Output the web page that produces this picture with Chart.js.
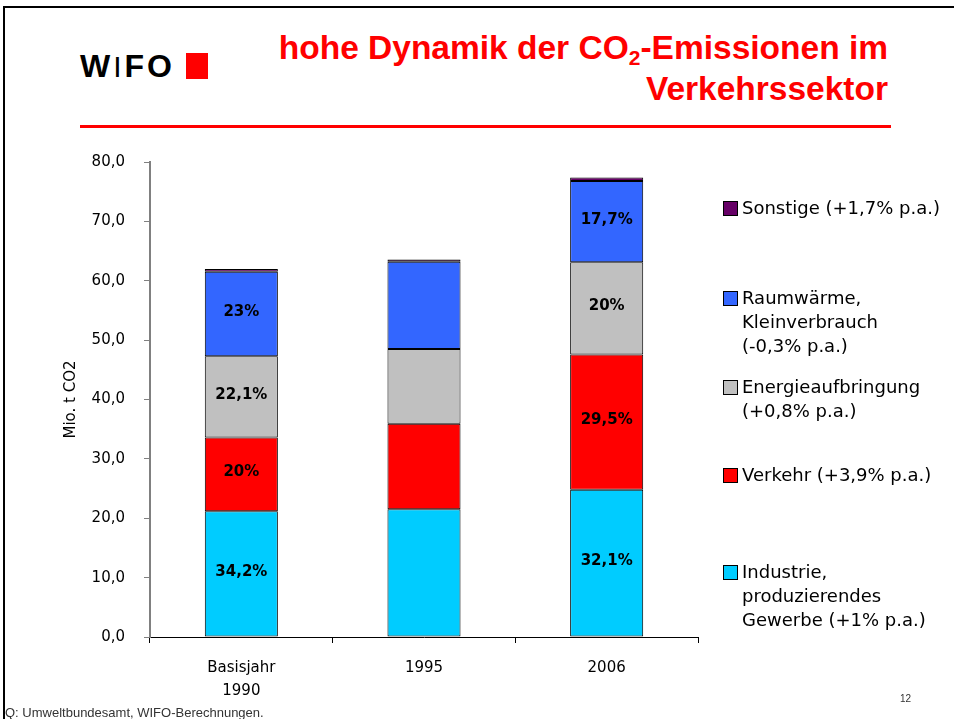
<!DOCTYPE html>
<html>
<head>
<meta charset="utf-8">
<script src="https://cdn.jsdelivr.net/npm/chart.js@4.4.1/dist/chart.umd.min.js"></script>
<style>
  html,body{margin:0;padding:0;background:#fff;}
  body{width:954px;height:719px;overflow:hidden;position:relative;font-family:"DejaVu Sans",sans-serif;}
  #frame{position:absolute;left:3px;top:6px;width:980px;height:740px;border-left:2px solid #000;border-top:2px solid #000;box-sizing:border-box;}
  #logo{position:absolute;left:80px;top:46px;font-family:"Liberation Sans",Arial,sans-serif;font-weight:bold;font-size:32px;color:#000;letter-spacing:3px;line-height:40px;}
  #logo .thin{font-weight:normal;font-size:30px;}
  #logo .sq{position:absolute;left:106px;top:7px;width:22px;height:26px;background:#ff0000;}
  #title{position:absolute;right:66px;top:27px;text-align:right;font-family:"Liberation Sans",Arial,sans-serif;font-weight:bold;font-size:33.5px;line-height:41px;color:#ff0000;}
  #title sub{font-size:21px;vertical-align:-6px;line-height:0;}
  #rule{position:absolute;left:80px;top:125px;width:811px;height:3px;background:#ff0000;}
  #chartbox{position:absolute;left:0;top:0;}
  #legend{position:absolute;left:0;top:0;}
  .li{position:absolute;left:723px;font-size:18px;line-height:24px;color:#000;white-space:nowrap;}
  .li .box{position:absolute;left:0;top:5px;width:13px;height:13px;border:1px solid #000;}
  .li .txt{position:absolute;left:19px;top:0;}
  #src{position:absolute;left:5px;top:705px;font-family:"Liberation Sans",Arial,sans-serif;font-size:13px;color:#333;}
  #pg{position:absolute;left:900px;top:693px;font-family:"Liberation Sans",Arial,sans-serif;font-size:10px;color:#333;}
</style>
</head>
<body>
<div id="frame"></div>
<div id="logo">W<span class="thin">I</span>FO<span class="sq"></span></div>
<div id="title">hohe Dynamik der CO<sub>2</sub>-Emissionen im<br>Verkehrssektor</div>
<div id="rule"></div>
<div id="chartbox"><canvas id="c" width="954" height="719"></canvas></div>
<div id="legend"></div>
<div id="src">Q: Umweltbundesamt, WIFO-Berechnungen.</div>
<div id="pg">12</div>
<script>
// ---- data ----
const categories = [["Basisjahr", "1990"], "1995", "2006"];
const seriesNames = ["Industrie, produzierendes Gewerbe", "Verkehr", "Energieaufbringung", "Raumwärme, Kleinverbrauch", "Sonstige"];
const industrie = [21.2, 21.5, 24.8];
const verkehr = [12.4, 14.4, 22.8];
const energie = [13.7, 12.6, 15.5];
const raumwaerme = [14.2, 14.7, 13.7];
const sonstige = [0.5, 0.4, 0.6];
const shareIndustrie = ["34,2%", "", "32,1%"];
const shareVerkehr = ["20%", "", "29,5%"];
const shareEnergie = ["22,1%", "", "20%"];
const shareRaumwaerme = ["23%", "", "17,7%"];
const shareSonstige = ["", "", ""];
const yTicks = [0, 10, 20, 30, 40, 50, 60, 70, 80];
const legendLines = [
  ["Sonstige (+1,7% p.a.)"],
  ["Raumwärme,", "Kleinverbrauch", "(-0,3% p.a.)"],
  ["Energieaufbringung", "(+0,8% p.a.)"],
  ["Verkehr (+3,9% p.a.)"],
  ["Industrie,", "produzierendes", "Gewerbe (+1% p.a.)"]
];
const colors = ["#00ccff", "#ff0000", "#c0c0c0", "#3366ff", "#660066"];

// ---- legend (HTML) ----
const legendTops = [196, 286, 375, 463, 560];
const legendOrder = [4, 3, 2, 1, 0];
const legendEl = document.getElementById('legend');
legendOrder.forEach((si, k) => {
  const d = document.createElement('div');
  d.className = 'li';
  d.style.top = legendTops[k] + 'px';
  const b = document.createElement('div');
  b.className = 'box';
  b.style.background = colors[si];
  const t = document.createElement('div');
  t.className = 'txt';
  t.innerHTML = legendLines[k].join('<br>');
  d.appendChild(b); d.appendChild(t);
  legendEl.appendChild(d);
});

const values = [industrie, verkehr, energie, raumwaerme, sonstige];
const shares = [shareIndustrie, shareVerkehr, shareEnergie, shareRaumwaerme, shareSonstige];

const labelPlugin = {
  id: 'segLabels',
  afterDatasetsDraw(chart) {
    const ctx = chart.ctx;
    ctx.save();
    ctx.font = 'bold 15px "DejaVu Sans", sans-serif';
    ctx.fillStyle = '#000';
    ctx.textAlign = 'center';
    ctx.textBaseline = 'middle';
    chart.data.datasets.forEach((ds, di) => {
      const meta = chart.getDatasetMeta(di);
      meta.data.forEach((el, i) => {
        const txt = shares[di][i];
        if (!txt) return;
        const p = el.getProps(['x', 'y', 'base'], true);
        ctx.fillText(txt, p.x, (p.y + p.base) / 2 - 2);
      });
    });
    ctx.restore();
  }
};

new Chart(document.getElementById('c'), {
  type: 'bar',
  data: {
    labels: categories,
    datasets: values.map((v, i) => ({
      label: seriesNames[i],
      data: v,
      backgroundColor: colors[i],
      borderColor: '#000',
      borderWidth: 1,
      borderSkipped: false,
      categoryPercentage: 1.0,
      barPercentage: 0.4
    }))
  },
  options: {
    responsive: false,
    animation: false,
    devicePixelRatio: 1,
    layout: { padding: { left: 0, top: 162, right: 256, bottom: 20 } },
    plugins: { legend: { display: false }, tooltip: { enabled: false } },
    scales: {
      x: {
        stacked: true,
        afterFit(s) { s.height = 62; },
        grid: { offset: true, drawOnChartArea: false, drawTicks: true, tickLength: 6, color: '#000', lineWidth: 1 },
        border: { color: '#000', width: 1 },
        ticks: { color: '#000', font: { family: '"DejaVu Sans", sans-serif', size: 15, lineHeight: 1.5 }, padding: 14, maxRotation: 0 }
      },
      y: {
        stacked: true,
        min: 0, max: 80,
        afterFit(s) { s.width = 150; },
        afterBuildTicks(s) { s.ticks = yTicks.map(v => ({ value: v })); },
        grid: { drawOnChartArea: false, drawTicks: true, tickLength: 6, color: '#808080', lineWidth: 1 },
        border: { color: '#808080', width: 2 },
        ticks: {
          color: '#000', padding: 19,
          font: { family: '"DejaVu Sans", sans-serif', size: 15 },
          callback: v => v.toFixed(1).replace('.', ',')
        },
        title: { display: true, text: 'Mio. t CO2', color: '#000', font: { family: '"DejaVu Sans", sans-serif', size: 15 }, padding: { top: 62 } }
      }
    }
  },
  plugins: [labelPlugin]
});
</script>
</body>
</html>
